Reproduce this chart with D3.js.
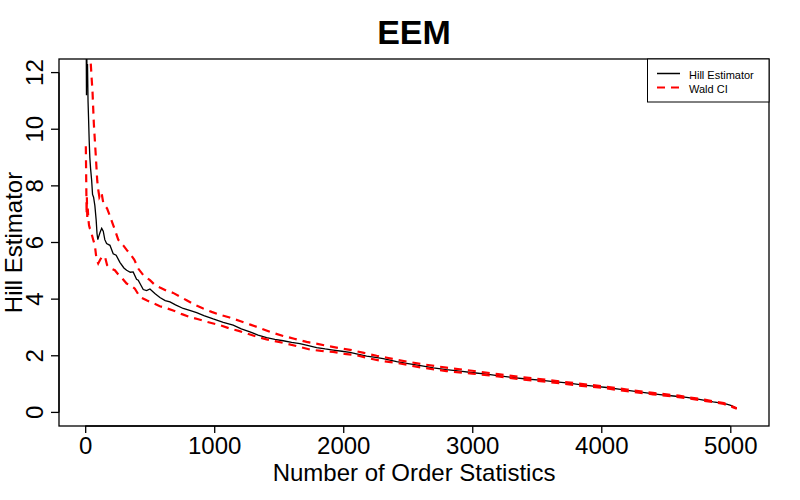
<!DOCTYPE html>
<html>
<head>
<meta charset="utf-8">
<script src="https://cdnjs.cloudflare.com/ajax/libs/d3/7.8.5/d3.min.js"></script>
<style>
  body { margin: 0; background: #fff; }
  text { font-family: "Liberation Sans", Arial, sans-serif; }
</style>
</head>
<body>
<script>
//Data: order statistic k and estimate
const hillK = [3, 5, 8, 10, 12, 15, 18, 22, 26, 31, 36, 42, 50, 57, 65, 75, 85, 92, 98, 104, 115, 128, 140, 152, 166, 192, 217, 240, 269, 300, 321, 350, 372, 398, 411, 450, 476, 502, 540, 579, 620, 657, 700, 760, 810, 864, 920, 992, 1070, 1147, 1210, 1277, 1340, 1406, 1470, 1535, 1600, 1664, 1730, 1794, 1860, 1922, 1990, 2052, 2120, 2181, 2250, 2310, 2414, 2491, 2600, 2698, 2800, 2905, 3010, 3111, 3210, 3318, 3420, 3525, 3630, 3732, 3835, 3938, 4042, 4150, 4248, 4350, 4455, 4560, 4662, 4760, 4868, 4930, 4972, 5010, 5050];
const hillV = [18, 15, 13, 11.2, 12.8, 11.6, 12.3, 11.0, 10.4, 9.6, 9.0, 8.6, 8.2, 7.7, 7.6, 7.3, 6.8, 6.3, 6.1, 6.2, 6.35, 6.5, 6.4, 6.1, 5.96, 5.9, 5.6, 5.55, 5.3, 5.1, 5.02, 4.95, 4.96, 4.7, 4.67, 4.34, 4.3, 4.36, 4.2, 4.06, 3.95, 3.9, 3.8, 3.67, 3.6, 3.52, 3.42, 3.3, 3.18, 3.08, 2.95, 2.84, 2.73, 2.64, 2.58, 2.53, 2.47, 2.43, 2.36, 2.29, 2.24, 2.2, 2.16, 2.12, 2.05, 1.99, 1.94, 1.9, 1.79, 1.73, 1.65, 1.57, 1.51, 1.46, 1.4, 1.35, 1.29, 1.23, 1.18, 1.14, 1.09, 1.04, 0.98, 0.93, 0.88, 0.81, 0.75, 0.69, 0.63, 0.58, 0.53, 0.46, 0.37, 0.33, 0.29, 0.24, 0.14];

const upperK = [5, 10, 20, 30, 38, 42, 50, 57, 67, 75, 83, 93, 100, 110, 127, 140, 153, 170, 191, 210, 230, 256, 295, 320, 347, 380, 411, 450, 502, 540, 579, 630, 682, 730, 786, 850, 915, 980, 1044, 1120, 1199, 1280, 1354, 1440, 1535, 1620, 1716, 1800, 1884, 1970, 2065, 2160, 2259, 2340, 2426, 2600, 2800, 3000, 3200, 3400, 3600, 3800, 4000, 4200, 4400, 4600, 4800, 4950, 5050];
const upperV = [40, 30, 20, 15, 13, 12.4, 11.8, 11.3, 10.2, 9.6, 9.0, 8.2, 7.9, 7.6, 7.75, 7.4, 7.3, 7.2, 6.95, 6.7, 6.45, 6.1, 5.9, 5.75, 5.6, 5.4, 5.08, 4.85, 4.67, 4.5, 4.41, 4.3, 4.22, 4.1, 3.96, 3.8, 3.67, 3.55, 3.45, 3.35, 3.23, 3.1, 2.98, 2.83, 2.7, 2.6, 2.49, 2.42, 2.34, 2.27, 2.2, 2.1, 2.0, 1.93, 1.85, 1.71, 1.58, 1.47, 1.35, 1.24, 1.14, 1.03, 0.93, 0.81, 0.69, 0.59, 0.45, 0.33, 0.15];

const lowerK = [5, 7, 9, 11, 13, 16, 20, 25, 30, 36, 45, 50, 62, 75, 88, 101, 114, 130, 153, 170, 191, 230, 260, 282, 321, 347, 385, 424, 476, 530, 579, 630, 682, 750, 811, 870, 941, 1044, 1122, 1190, 1251, 1330, 1406, 1480, 1561, 1650, 1742, 1830, 1922, 2010, 2103, 2200, 2297, 2414, 2600, 2800, 3000, 3200, 3400, 3600, 3800, 4000, 4200, 4400, 4600, 4800, 4950, 5050];
const lowerV = [9.4, 8.6, 7.8, 7.0, 7.6, 6.9, 7.2, 6.8, 6.6, 6.5, 6.4, 6.3, 6.1, 5.9, 5.4, 5.26, 5.37, 5.5, 5.5, 5.2, 5.1, 5.02, 4.85, 4.76, 4.55, 4.5, 4.37, 4.08, 3.96, 3.85, 3.75, 3.68, 3.6, 3.47, 3.37, 3.3, 3.2, 3.08, 2.96, 2.88, 2.79, 2.67, 2.58, 2.51, 2.43, 2.33, 2.22, 2.17, 2.14, 2.07, 2.02, 1.91, 1.82, 1.75, 1.59, 1.46, 1.37, 1.27, 1.16, 1.07, 0.96, 0.87, 0.75, 0.64, 0.54, 0.41, 0.3, 0.13];

const xTicks = [0, 1000, 2000, 3000, 4000, 5000];
const yTicks = [0, 2, 4, 6, 8, 10, 12];
const legendLabels = ["Hill Estimator", "Wald CI"];

const width = 800, height = 500;
const plotLeft = 59, plotRight = 769, plotTop = 59, plotBottom = 426;

const svg = d3.select("body")
    .append("svg")
    .attr("width", width)
    .attr("height", height);

//Scales (R pads the range by 4%)
const xScale = d3.scaleLinear().domain([-203, 5300]).range([plotLeft, plotRight]);
const yScale = d3.scaleLinear().domain([-0.48, 12.48]).range([plotBottom, plotTop]);

//Clip the curves to the plot box
svg.append("clipPath")
    .attr("id", "clip")
    .append("rect")
    .attr("x", plotLeft).attr("y", plotTop)
    .attr("width", plotRight - plotLeft).attr("height", plotBottom - plotTop);

const line = d3.line()
    .x(d => xScale(d[0]))
    .y(d => yScale(d[1]));

//Hill estimator
svg.append("path")
    .datum(d3.zip(hillK, hillV))
    .attr("clip-path", "url(#clip)")
    .attr("d", line)
    .attr("fill", "none")
    .attr("stroke", "black")
    .attr("stroke-width", 1.3);

//Wald CI bounds
[d3.zip(upperK, upperV), d3.zip(lowerK, lowerV)].forEach(pts => {
    svg.append("path")
        .datum(pts)
        .attr("clip-path", "url(#clip)")
        .attr("d", line)
        .attr("fill", "none")
        .attr("stroke", "red")
        .attr("stroke-width", 2.2)
        .attr("stroke-dasharray", "8,6");
});

//Box
svg.append("rect")
    .attr("x", plotLeft).attr("y", plotTop)
    .attr("width", plotRight - plotLeft).attr("height", plotBottom - plotTop)
    .attr("fill", "none")
    .attr("stroke", "black")
    .attr("stroke-width", 1.3);

//X axis
const xAxis = d3.axisBottom(xScale).tickValues(xTicks).tickFormat(d3.format("d")).tickSize(7).tickPadding(4);
const gx = svg.append("g")
    .attr("transform", "translate(0," + plotBottom + ")")
    .call(xAxis);
gx.select(".domain")
    .attr("d", "M" + xScale(0) + ",0H" + xScale(5000));
gx.selectAll("text")
    .attr("font-size", 24)
    .attr("font-family", "Liberation Sans, Arial, sans-serif")
    .attr("fill", "black");
gx.selectAll("line, path").attr("stroke", "black").attr("stroke-width", 1.3);

//Y axis (labels parallel to axis, as in R)
const yAxis = d3.axisLeft(yScale).tickValues(yTicks).tickSize(8);
const gy = svg.append("g")
    .attr("transform", "translate(" + plotLeft + ",0)")
    .call(yAxis);
gy.select(".domain")
    .attr("d", "M0," + yScale(0) + "V" + yScale(12));
gy.selectAll("line, path").attr("stroke", "black").attr("stroke-width", 1.3);
gy.selectAll(".tick").attr("transform", null);
gy.selectAll(".tick line")
    .attr("y1", d => yScale(d)).attr("y2", d => yScale(d));
gy.selectAll("text")
    .attr("font-size", 24)
    .attr("font-family", "Liberation Sans, Arial, sans-serif")
    .attr("fill", "black")
    .attr("x", null).attr("dy", null)
    .attr("text-anchor", "middle")
    .attr("transform", d => "translate(-16," + yScale(d) + ") rotate(-90)");

//Titles
svg.append("text")
    .attr("x", (plotLeft + plotRight) / 2)
    .attr("y", 44)
    .attr("text-anchor", "middle")
    .attr("font-size", 34)
    .attr("font-weight", "bold")
    .text("EEM");

svg.append("text")
    .attr("x", (plotLeft + plotRight) / 2)
    .attr("y", 481)
    .attr("text-anchor", "middle")
    .attr("font-size", 24)
    .text("Number of Order Statistics");

svg.append("text")
    .attr("transform", "translate(22," + (plotTop + plotBottom) / 2 + ") rotate(-90)")
    .attr("text-anchor", "middle")
    .attr("font-size", 24)
    .text("Hill Estimator");

//Legend
const legend = svg.append("g");
legend.append("rect")
    .attr("x", 647.5).attr("y", plotTop)
    .attr("width", plotRight - 647.5).attr("height", 43)
    .attr("fill", "white")
    .attr("stroke", "black")
    .attr("stroke-width", 1);
legendLabels.forEach((label, i) => {
    legend.append("line")
        .attr("x1", 657).attr("x2", 680)
        .attr("y1", 73.5 + i * 14).attr("y2", 73.5 + i * 14)
        .attr("stroke", i == 0 ? "black" : "red")
        .attr("stroke-width", i == 0 ? 1.5 : 2)
        .attr("stroke-dasharray", i == 0 ? null : "8,6");
    legend.append("text")
        .attr("x", 689)
        .attr("y", 78.5 + i * 14)
        .attr("font-size", 11)
        .text(label);
});
</script>
</body>
</html>
